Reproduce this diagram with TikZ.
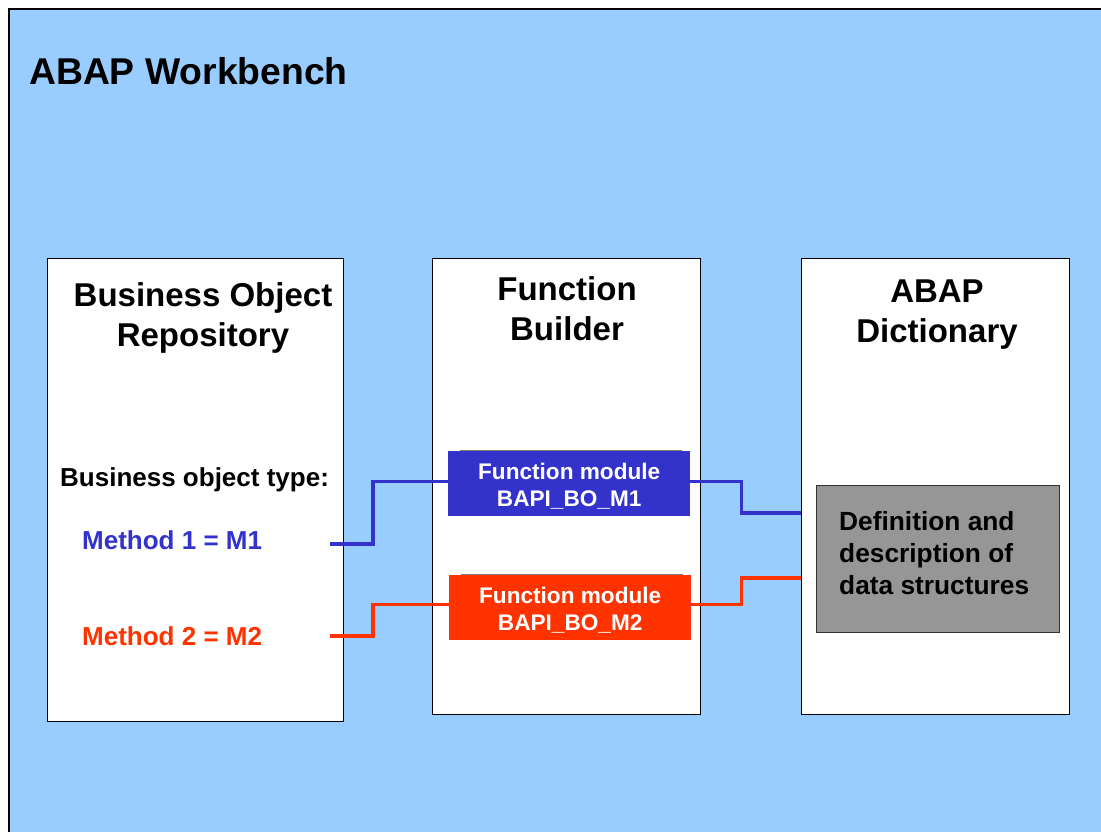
\documentclass[tikz,border=0pt]{standalone}
\usepackage{fontspec}
\setmainfont{Liberation Sans}
\definecolor{bgblue}{HTML}{99CCFF}
\definecolor{fmblue}{HTML}{3333CC}
\definecolor{fmred}{HTML}{FF3300}
\definecolor{boxgrey}{HTML}{969696}
\begin{document}
\begin{tikzpicture}[x=1pt,y=-1pt,
  panel/.style={draw=black,line width=1.1pt,fill=white,rectangle,anchor=north west,inner sep=0pt},
  fmbox/.style={rectangle,anchor=north west,inner sep=0pt,minimum width=242pt,minimum height=65pt},
  fmtext/.style={inner sep=0pt,text=white,align=center,font=\bfseries\fontsize{22.6}{27}\selectfont},
  header/.style={anchor=north,inner sep=0pt,align=center,font=\bfseries\fontsize{33}{40}\selectfont},
  label/.style={anchor=base west,inner sep=0pt,font=\bfseries\fontsize{26}{32}\selectfont},
  conn/.style={line width=3.2pt},
  shadowline/.style={draw=gray,line width=1pt}]
\useasboundingbox (0,0) rectangle (1101,832);
% background
\fill[bgblue] (9,9) rectangle (1101,832);
\draw[line width=1.2pt] (9,832) -- (9,9) -- (1101,9);
\node[anchor=base west,inner sep=0pt,font=\bfseries\fontsize{37.3}{44}\selectfont] (title) at (29,85) {ABAP Workbench};
% panels
\node[panel,minimum width=296pt,minimum height=463pt] (bor) at (47,258) {};
\node[panel,minimum width=268pt,minimum height=456pt] (fb) at (432,258) {};
\node[panel,minimum width=268pt,minimum height=456pt] (dict) at (801,258) {};
% headers
\node[header] (borh) at (203,282) {Business Object\\Repository};
\node[header] (fbh) at (567,276) {Function\\Builder};
\node[header] (dicth) at (937,280) {ABAP\\Dictionary};
% BOR labels
\node[label] (bot) at (60,486) {Business object type:};
\node[label,text=fmblue] (m1) at (82,549) {Method 1 = M1};
\node[label,text=fmred] (m2) at (82,645) {Method 2 = M2};
\coordinate (m1end) at (330,544);
\coordinate (m2end) at (330,636);
% function modules
\node[fmbox,fill=fmblue] (fm1) at (448,451) {};
\node[fmbox,fill=fmred] (fm2) at (449,575) {};
\node[fmtext] (fm1t) at ([yshift=-2pt]fm1.center) {Function module\\BAPI\_BO\_M1};
\node[fmtext] (fm2t) at ([yshift=-2pt]fm2.center) {Function module\\BAPI\_BO\_M2};
\draw[shadowline] ([xshift=12pt,yshift=1pt]fm1.north west) -- ([xshift=-8pt,yshift=1pt]fm1.north east);
\draw[shadowline] ([xshift=12pt,yshift=1pt]fm2.north west) -- ([xshift=-8pt,yshift=1pt]fm2.north east);
% grey box
\node[rectangle,draw=black!80,line width=1.1pt,fill=boxgrey,anchor=north west,minimum width=243pt,minimum height=147pt,inner sep=0pt] (gbox) at (816,485) {};
\node[anchor=north west,inner sep=0pt,align=left,font=\bfseries\fontsize{26.3}{32}\selectfont] (gtext) at (839,511) {Definition and\\description of\\data structures};
\coordinate (d1) at (801,513);
\coordinate (d2) at (801,578);
% connectors
\draw[conn,fmblue] (m1end) -- ++(43,0) |- ([yshift=2.5pt]fm1.west);
\draw[conn,fmblue] ([yshift=2.5pt]fm1.east) -- ++(51,0) |- (d1);
\draw[conn,fmred] (m2end) -- ++(43,0) |- ([yshift=3.5pt]fm2.west);
\draw[conn,fmred] ([yshift=3.5pt]fm2.east) -- ++(50,0) |- (d2);
\end{tikzpicture}
\end{document}
